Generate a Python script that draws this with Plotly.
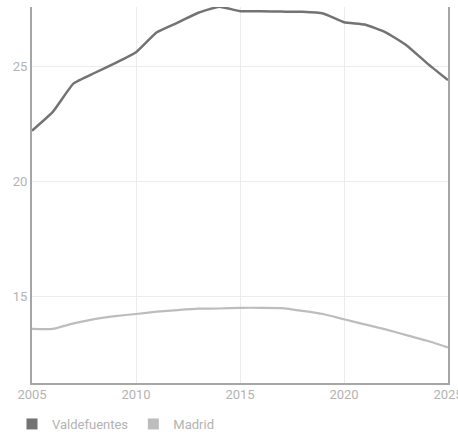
import plotly.graph_objects as go

years = list(range(2005, 2026))
valdefuentes = [22.22, 23.04, 24.28, 24.73, 25.16, 25.63, 26.50, 26.92, 27.35, 27.61,
                27.42, 27.41, 27.40, 27.39, 27.32, 26.94, 26.84, 26.50, 25.94, 25.15, 24.42]
madrid = [13.60, 13.60, 13.84, 14.03, 14.16, 14.25, 14.35, 14.42, 14.48, 14.49,
          14.52, 14.52, 14.51, 14.39, 14.25, 14.02, 13.80, 13.58, 13.33, 13.09, 12.80]
series_names = ["Valdefuentes", "Madrid"]
colors = ["#737373", "#bdbdbd"]
x_ticks = [2005, 2010, 2015, 2020, 2025]
y_ticks = [15, 20, 25]

fig = go.Figure()
for name, vals, col, w in zip(series_names, [valdefuentes, madrid], colors, [2.5, 2.2]):
    fig.add_trace(go.Scatter(x=years, y=vals, mode="lines", name=name,
                             line=dict(color=col, width=w, shape="spline", smoothing=0.4),
                             showlegend=False, hoverinfo="skip"))
for name, col in zip(series_names, colors):
    fig.add_trace(go.Scatter(x=[None], y=[None], mode="markers", name=name,
                             marker=dict(symbol="square", size=11, color=col)))

fig.update_layout(
    width=458, height=436,
    margin=dict(l=32, r=10, t=7, b=53, autoexpand=False),
    paper_bgcolor="white", plot_bgcolor="white",
    font=dict(family="Roboto", size=13, color="#b3b3b3"),
    legend=dict(orientation="h", xref="container", yref="container",
                x=12 / 458, xanchor="left", y=(436 - 409) / 436, yanchor="top",
                font=dict(size=13, color="#b3b3b3"), itemwidth=30, tracegroupgap=0),
    xaxis=dict(range=[2005, 2025], tickvals=x_ticks, showgrid=True, gridcolor="#ececec",
               gridwidth=1, showline=True, linecolor="#a6a6a6", linewidth=2,
               zeroline=False, ticks="", ticklen=0, ticklabeloverflow="allow",
               automargin=False, ticklabelstandoff=-2,
               tickfont=dict(size=13, color="#b3b3b3")),
    yaxis=dict(range=[11.25, 27.6], tickvals=y_ticks, showgrid=True, gridcolor="#ececec",
               gridwidth=1, showline=True, mirror=True, linecolor="#a6a6a6", linewidth=2,
               zeroline=False, ticks="", ticklen=0, ticklabeloverflow="allow",
               automargin=False,
               tickfont=dict(size=13, color="#b3b3b3")),
)
fig.write_html("out.html")
